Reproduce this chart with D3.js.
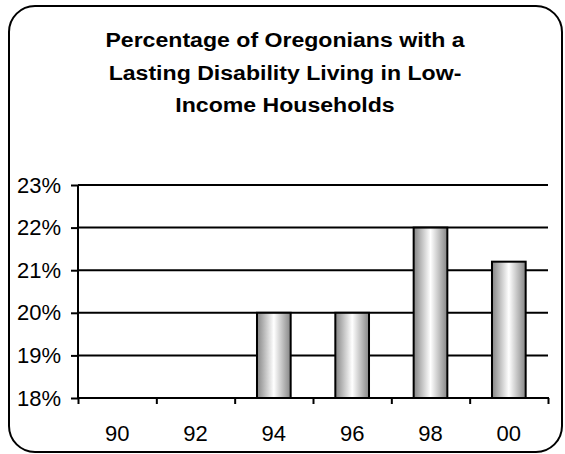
<!DOCTYPE html>
<html>
<head>
<meta charset="utf-8">
<script src="https://cdn.jsdelivr.net/npm/d3@7"></script>
<style>
  body { margin: 0; background: #fff; }
  svg { display: block; }
</style>
</head>
<body>
<script>
var years = ['90', '92', '94', '96', '98', '00'];
var values = [null, null, 20.0, 20.0, 22.0, 21.2];
var y_ticks = [18, 19, 20, 21, 22, 23];
var title_lines = [
  'Percentage of Oregonians with a',
  'Lasting Disability Living in Low-',
  'Income Households'
];

var width = 565,
    height = 454;
var plot = {left: 78, right: 548, top: 185, bottom: 398};
var font = 'Arial, "Liberation Sans", sans-serif';
var label_size = 22;

var svg = d3.select('body')
  .append('svg')
  .attr('width', width)
  .attr('height', height);

// cylinder-ish shading used by the bars
var grad = svg.append('defs')
  .append('linearGradient')
  .attr('id', 'bar-shade')
  .attr('x1', '0%').attr('x2', '100%')
  .attr('y1', '0%').attr('y2', '0%');
grad.append('stop').attr('offset', '0%').attr('stop-color', '#858585');
grad.append('stop').attr('offset', '25%').attr('stop-color', '#c2c2c2');
grad.append('stop').attr('offset', '50%').attr('stop-color', '#ffffff');
grad.append('stop').attr('offset', '75%').attr('stop-color', '#c2c2c2');
grad.append('stop').attr('offset', '100%').attr('stop-color', '#858585');

// rounded frame
svg.append('rect')
  .attr('x', 9)
  .attr('y', 6)
  .attr('width', 553)
  .attr('height', 446)
  .attr('rx', 26)
  .attr('ry', 26)
  .style('fill', 'white')
  .style('stroke', 'black')
  .style('stroke-width', 2);

// title, a little stretched sideways like the original
svg.append('g')
  .selectAll('text')
  .data(title_lines)
  .enter()
  .append('text')
  .attr('transform', function(d, i) {
    return 'translate(285,' + (47 + i * 32.5) + ') scale(1.1,1)';
  })
  .attr('font-family', font)
  .attr('font-size', '21px')
  .attr('font-weight', 'bold')
  .style('text-anchor', 'middle')
  .text(function(d) { return d; });

var x = d3.scaleBand()
  .domain(years)
  .range([plot.left, plot.right])
  .paddingInner(0.57)
  .paddingOuter(0.285);

var xEdges = d3.scaleBand()
  .domain(years)
  .range([plot.left, plot.right]);

var y = d3.scaleLinear()
  .domain([18, 23])
  .range([plot.bottom, plot.top]);

// gridlines
svg.append('g')
  .selectAll('line')
  .data(y_ticks.slice(1))
  .enter()
  .append('line')
  .attr('x1', plot.left)
  .attr('x2', plot.right)
  .attr('y1', function(d) { return y(d); })
  .attr('y2', function(d) { return y(d); })
  .style('stroke', 'black')
  .style('stroke-width', 2);

// bars
svg.append('g')
  .selectAll('rect')
  .data(years.filter(function(d, i) { return values[i] !== null; }))
  .enter()
  .append('rect')
  .attr('x', function(d) { return x(d); })
  .attr('width', x.bandwidth())
  .attr('y', function(d) { return y(values[years.indexOf(d)]); })
  .attr('height', function(d) { return plot.bottom - y(values[years.indexOf(d)]); })
  .style('fill', 'url(#bar-shade)')
  .style('stroke', 'black')
  .style('stroke-width', 2);

// y axis
var yAxis = svg.append('g')
  .attr('transform', 'translate(' + plot.left + ',0)')
  .call(d3.axisLeft(y)
    .tickValues(y_ticks)
    .tickSize(7)
    .tickPadding(10)
    .tickFormat(function(d) { return d + '%'; }));

// x axis, ticks sit on the band edges
var edges = years.map(function(d) { return xEdges(d); }).concat([plot.right]);
var xAxis = svg.append('g')
  .attr('transform', 'translate(0,' + plot.bottom + ')')
  .call(d3.axisBottom(d3.scaleLinear().domain([plot.left, plot.right]).range([plot.left, plot.right]))
    .tickValues(edges)
    .tickSize(6)
    .tickFormat(''));

svg.append('g')
  .selectAll('text')
  .data(years)
  .enter()
  .append('text')
  .attr('x', function(d) { return xEdges(d) + xEdges.bandwidth() / 2; })
  .attr('y', 441)
  .attr('font-family', font)
  .attr('font-size', label_size + 'px')
  .style('text-anchor', 'middle')
  .text(function(d) { return d; });

[yAxis, xAxis].forEach(function(ax) {
  ax.select('.domain').remove();
  ax.selectAll('line').style('stroke', 'black').style('stroke-width', 2);
  ax.selectAll('text')
    .attr('font-family', font)
    .attr('font-size', label_size + 'px')
    .style('fill', 'black');
});

// axis lines drawn on top of the bars
svg.append('line')
  .attr('x1', plot.left).attr('x2', plot.left)
  .attr('y1', plot.top).attr('y2', plot.bottom + 1)
  .style('stroke', 'black').style('stroke-width', 2);
svg.append('line')
  .attr('x1', plot.left - 1).attr('x2', plot.right + 1)
  .attr('y1', plot.bottom).attr('y2', plot.bottom)
  .style('stroke', 'black').style('stroke-width', 2);
</script>
</body>
</html>
